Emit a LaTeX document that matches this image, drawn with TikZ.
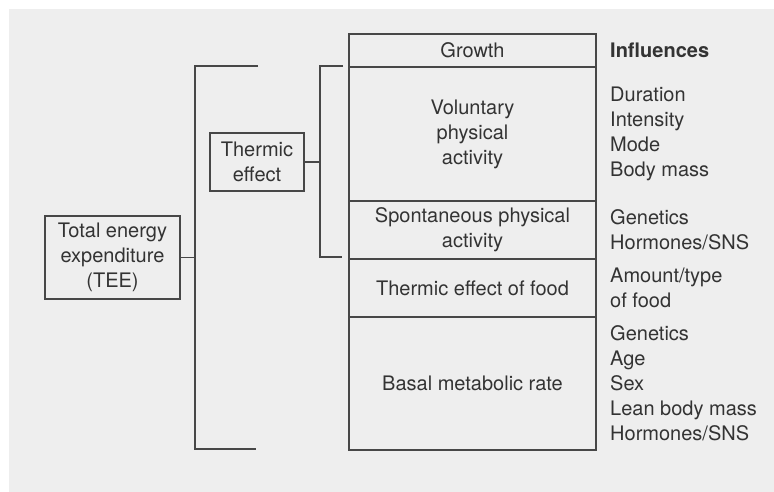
\documentclass[tikz,border=0pt]{standalone}
\usepackage{fontspec}
\setmainfont{TeX Gyre Heros}
\usetikzlibrary{positioning}
\definecolor{scan}{HTML}{EEEEEE}
\definecolor{ink}{HTML}{474747}
\definecolor{print}{HTML}{333333}
\tikzstyle{partbox} = [rectangle, draw=ink, line width=1.5pt, minimum width=247pt, align=center, inner sep=0pt, outer sep=0pt]
\tikzstyle{sumbox} = [rectangle, draw=ink, line width=1.5pt, align=center, inner sep=0pt, outer sep=0pt]
\tikzstyle{factors} = [align=left, inner sep=0pt, anchor=west]
\tikzstyle{bracket} = [draw=ink, line width=1.5pt]

\begin{document}
\begin{tikzpicture}[x=1pt, y=-1pt, node distance=14pt, font=\fontsize{20}{25}\selectfont, text=print]
  \fill[white] (0,0) rectangle (774,492);
  \fill[scan] (9,9) rectangle (774,492);

  % components of the expenditure
  \node (growth) [partbox, minimum height=33pt, anchor=north west] at (349,34) {Growth};
  \node (vpa) [partbox, minimum height=134pt, below=0pt of growth] {Voluntary\\physical\\activity};
  \node (spa) [partbox, minimum height=58pt, below=0pt of vpa] {Spontaneous physical\\activity};
  \node (tef) [partbox, minimum height=58pt, below=0pt of spa] {Thermic effect of food};
  \node (bmr) [partbox, minimum height=133pt, below=0pt of tef] {Basal metabolic rate};

  % influences
  \node (infhead) [factors, right=of growth] {\textbf{Influences}};
  \node (vpainf) [factors, right=of vpa] {Duration\\Intensity\\Mode\\Body mass};
  \node (spainf) [factors, right=of spa] {Genetics\\Hormones/SNS};
  \node (tefinf) [factors, right=of tef] {Amount/type\\of food};
  \node (bmrinf) [factors, right=of bmr] {Genetics\\Age\\Sex\\Lean body mass\\Hormones/SNS};

  % totals
  \node (tee) [sumbox, minimum width=135pt, minimum height=83pt] at (112.5,257.5) {Total energy\\expenditure\\(TEE)};
  \node (thermic) [sumbox, minimum width=94pt, minimum height=58pt] at (257,162) {Thermic\\effect};

  \coordinate (teespine) at (195,257.5);
  \coordinate (teetop) at (258,66);
  \coordinate (teebot) at (256,449);
  \coordinate (thermspine) at (320,162);
  \coordinate (thermtop) at (343,66);
  \coordinate (thermbot) at (342,257);

  \draw [bracket] (teetop) -| (teespine) |- (teebot);
  \draw [bracket] (tee) -- (teespine);
  \draw [bracket] (thermtop) -| (thermspine) |- (thermbot);
  \draw [bracket] (thermic) -- (thermspine);
\end{tikzpicture}
\end{document}
